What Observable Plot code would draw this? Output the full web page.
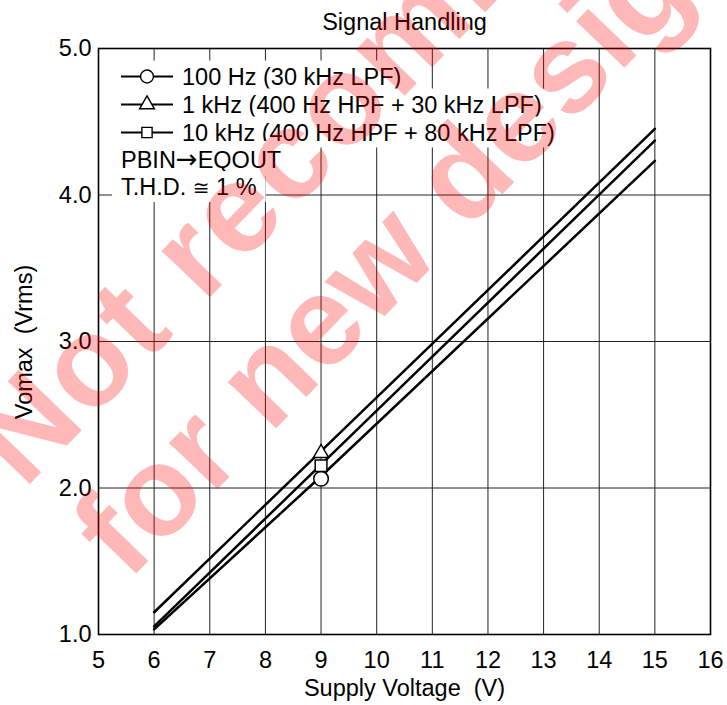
<!DOCTYPE html>
<html><head><meta charset="utf-8">
<script src="https://cdn.jsdelivr.net/npm/d3@7"></script>
<script src="https://cdn.jsdelivr.net/npm/@observablehq/plot@0.6"></script>
<style>
body{margin:0;background:#fff;}
#chart{position:relative;width:727px;height:705px;}
svg text{font-family:"Liberation Sans",Arial,Helvetica,sans-serif;}
</style></head><body><div id="chart"></div>
<script>
// ---- data ----
const supplyVoltage = [6, 9, 15];
const vomax100Hz = [1.035, 2.08, 4.233];
const vomax1kHz = [1.152, 2.252, 4.451];
const vomax10kHz = [1.055, 2.16, 4.371];
const markerVoltage = [9, 9, 9];
const markerVomax = [2.063, 2.238, 2.152];
const seriesNames = ["100 Hz (30 kHz LPF)", "1 kHz (400 Hz HPF + 30 kHz LPF)", "10 kHz (400 Hz HPF + 80 kHz LPF)"];
const seriesSymbols = ["circle", "triangle", "square"];
const noteLines = [["PBIN", "\u2192", "EQOUT"], ["T.H.D. ", "\u2245", " 1 %"]];
const xTicks = [5, 6, 7, 8, 9, 10, 11, 12, 13, 14, 15, 16];
const yTicks = [1, 2, 3, 4, 5];
const xGrid = [6, 7, 8, 9, 10, 11, 12, 13, 14, 15];
const yGrid = [2, 3, 4];
const titleText = "Signal Handling";
const xLabel = "Supply Voltage  (V)";
const yLabel = "Vomax  (Vrms)";
const watermark = ["Not recommended", "for new design"];

// ---- tables ----
const seriesValues = [vomax100Hz, vomax1kHz, vomax10kHz];
const lineData = seriesValues.flatMap((vals, s) =>
  vals.map((v, i) => ({series: seriesNames[s], x: supplyVoltage[i], y: v})));
const markerData = seriesNames.map((n, s) => ({series: n, x: markerVoltage[s], y: markerVomax[s], symbol: seriesSymbols[s]}));
const markerR = {circle: 7.3, triangle: 5.6, square: 6.6};

const FS = 23.5;
const chart = Plot.plot({
  width: 727, height: 705,
  marginLeft: 98, marginRight: 17, marginTop: 48, marginBottom: 71,
  x: {domain: [5, 16]},
  y: {domain: [1, 5]},
  style: {fontFamily: '"Liberation Sans", Arial, Helvetica, sans-serif', background: "white", color: "black"},
  marks: [
    Plot.gridX(xGrid, {stroke: "#222", strokeOpacity: 1, strokeWidth: 1}),
    Plot.gridY(yGrid, {stroke: "#222", strokeOpacity: 1, strokeWidth: 1}),
    Plot.line(lineData, {x: "x", y: "y", z: "series", stroke: "black", strokeWidth: 2.5}),
    ...seriesSymbols.map(sym => Plot.dot(markerData.filter(d => d.symbol === sym),
      {x: "x", y: "y", symbol: "symbol", r: markerR[sym], fill: "white", stroke: "black", strokeWidth: 1.5})),
    Plot.frame({stroke: "black", strokeWidth: 1.6}),
    Plot.axisX(xTicks, {tickSize: 0, tickPadding: 17, fontSize: FS, label: null}),
    Plot.axisY(yTicks, {tickSize: 0, tickPadding: 7, fontSize: FS, label: null, tickFormat: d3.format(".1f")})
  ]
});
document.getElementById("chart").appendChild(chart);

const svg = d3.select(chart);
const font = '"Liberation Sans", Arial, Helvetica, sans-serif';

// title and axis labels
svg.append("text").attr("x", 404.5).attr("y", 30).attr("text-anchor", "middle")
  .attr("font-size", FS).attr("font-family", font).attr("fill", "black").text(titleText);
svg.append("text").attr("x", 404.5).attr("y", 696).attr("text-anchor", "middle")
  .attr("font-size", FS).attr("font-family", font).attr("fill", "black")
  .style("white-space", "pre").text(xLabel);
svg.append("text").attr("transform", "translate(32,342) rotate(-90)").attr("text-anchor", "middle")
  .attr("font-size", FS).attr("font-family", font).attr("fill", "black")
  .style("white-space", "pre").text(yLabel);

// legend
const lg = svg.append("g");
const rowY = [84.5, 112.5, 140.5, 168, 195];
const rows = [];
seriesNames.forEach((name, i) => {
  const g = lg.append("g");
  const bg = g.append("rect").attr("fill", "white");
  g.append("line").attr("x1", 121).attr("x2", 173).attr("y1", rowY[i] - 8).attr("y2", rowY[i] - 8)
    .attr("stroke", "black").attr("stroke-width", 2);
  const sz = {circle: 130, triangle: 95, square: 105}[seriesSymbols[i]];
  const sy = {circle: d3.symbolCircle, triangle: d3.symbolTriangle, square: d3.symbolSquare}[seriesSymbols[i]];
  g.append("path").attr("d", d3.symbol(sy, sz)()).attr("transform", `translate(147,${rowY[i] - 8})`)
    .attr("fill", "white").attr("stroke", "black").attr("stroke-width", 1.4);
  const t = g.append("text").attr("x", 182).attr("y", rowY[i]).attr("font-size", FS)
    .attr("text-anchor", "start").attr("font-family", font).attr("fill", "black").text(name);
  rows.push({bg, t, x0: 114});
});
noteLines.forEach((parts, j) => {
  const g = lg.append("g");
  const bg = g.append("rect").attr("fill", "white");
  const t = g.append("text").attr("x", 121).attr("y", rowY[3 + j]).attr("font-size", FS)
    .attr("text-anchor", "start").attr("font-family", font).attr("fill", "black").style("white-space", "pre");
  t.append("tspan").text(parts[0]);
  t.append("tspan").attr("font-family", '"DejaVu Sans", sans-serif')
    .attr("font-size", j === 0 ? 26 : 20).text(parts[1]);
  t.append("tspan").text(parts[2]);
  rows.push({bg, t, x0: 112});
});
rows.forEach(r => {
  const b = r.t.node().getBBox();
  r.bg.attr("x", r.x0).attr("y", b.y - 3).attr("width", b.x + b.width + 9 - r.x0).attr("height", b.height + 5);
});

// watermark
const wm = svg.append("g").attr("pointer-events", "none");
[[24, 490, 3], [128, 582, 0]].forEach(([x, y, ls], i) => {
  wm.append("text").attr("transform", `translate(${x},${y}) rotate(-46)`)
    .attr("text-anchor", "start").attr("letter-spacing", ls)
    .attr("font-size", 127).attr("font-weight", "bold").attr("font-family", '"DejaVu Sans", sans-serif')
    .attr("fill", "#ff0000").attr("fill-opacity", 0.28).text(watermark[i]);
});
</script></body></html>
